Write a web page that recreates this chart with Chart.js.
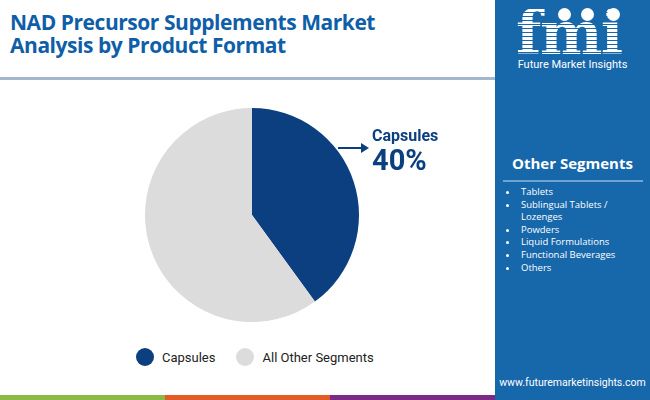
<!DOCTYPE html>
<html><head><meta charset="utf-8">
<script src="https://cdn.jsdelivr.net/npm/chart.js@4.4.0/dist/chart.umd.min.js"></script>
<style>
html,body{margin:0;padding:0;width:650px;height:400px;overflow:hidden;background:#fff;font-family:"Open Sans",sans-serif;}
.tl{position:absolute;left:10px;color:#0f5ea8;font-weight:700;font-size:21px;line-height:23px;height:23px;letter-spacing:-0.45px;white-space:nowrap;}
#sep{position:absolute;left:0;top:77px;width:495px;height:3px;background:#a3b8cc;}
#side{position:absolute;left:495px;top:0;width:155px;height:400px;background:#1767ab;}
#logo{position:absolute;left:0;top:0;width:155px;height:80px;}
#fmi{position:absolute;left:21px;top:9px;font-family:"DejaVu Serif",serif;font-weight:700;font-size:59px;line-height:50px;height:50px;letter-spacing:-1.5px;
  color:transparent;background:repeating-linear-gradient(to bottom,#fff 0,#fff 3px,transparent 3px,transparent 4px);-webkit-background-clip:text;background-clip:text;}
.dot{position:absolute;width:13px;height:13px;border-radius:50%;background:#fff;}
#fmitxt{position:absolute;left:0;width:155px;top:58px;text-align:center;color:#fff;font-family:Roboto,sans-serif;font-size:11px;line-height:13px;}
#osh{position:absolute;left:0;width:155px;top:153px;text-align:center;color:#fff;font-weight:700;font-size:15px;}
#osl{position:absolute;left:8px;top:180px;width:140px;height:2px;background:#6ea3d2;}
#list{position:absolute;left:8px;top:186px;margin:0;padding:0 0 0 16px;color:#fff;font-size:9.5px;line-height:12.6px;}
#list li{padding-left:2px;}
#url{position:absolute;left:0;width:155px;top:376px;text-align:center;color:#fff;font-family:Roboto,sans-serif;font-size:10.5px;}
#bar{position:absolute;left:0;top:395px;width:495px;height:5px;display:flex;}
#bar div{flex:1;}
#pieWrap{position:absolute;left:142px;top:105px;width:220px;height:220px;}
#ann{position:absolute;left:372px;top:127px;color:#0b3f7f;font-family:Roboto,sans-serif;font-weight:700;}
#ann .l{font-size:16px;line-height:18px;}
#ann .v{font-size:29px;line-height:30px;}
#arrow{position:absolute;left:338px;top:147px;width:24px;height:2px;background:#0b3f7f;}
#arrowhead{position:absolute;left:361px;top:143px;width:0;height:0;border-top:5px solid transparent;border-bottom:5px solid transparent;border-left:8px solid #0b3f7f;}
#legend{position:absolute;left:136px;top:348px;display:flex;align-items:center;font-family:Roboto,sans-serif;font-size:13px;color:#222;}
#legend .it{display:flex;align-items:center;margin-right:21px;}
#legend .sw{width:18px;height:18px;border-radius:50%;margin-right:8px;}
</style></head><body>
<div class="tl" style="top:11px">NAD Precursor Supplements Market</div>
<div class="tl" style="top:34px">Analysis by Product Format</div>
<div id="sep"></div>
<div id="side">
  <div id="logo">
    <div id="fmi">fmi</div>
    <div class="dot" style="left:63px;top:8px"></div>
    <div class="dot" style="left:86px;top:8px"></div>
    <div class="dot" style="left:112px;top:8px"></div>
    <div id="fmitxt">Future Market Insights</div>
  </div>
  <div id="osh">Other Segments</div>
  <div id="osl"></div>
  <ul id="list"></ul>
  <div id="url">www.futuremarketinsights.com</div>
</div>
<div id="bar"><div style="background:#8bbb45"></div><div style="background:#e35b26"></div><div style="background:#7b2a86"></div></div>
<div id="pieWrap"><canvas id="pie"></canvas></div>
<div id="arrow"></div><div id="arrowhead"></div>
<div id="ann"><div class="l" id="annL"></div><div class="v" id="annV"></div></div>
<div id="legend"></div>
<script>
const categories = ["Capsules", "All Other Segments"];
const shares = [40, 60];
const sliceColors = ["#0b3f7f", "#dcdcdc"];
const otherSegments = ["Tablets", "Sublingual Tablets / Lozenges", "Powders", "Liquid Formulations", "Functional Beverages", "Others"];

document.getElementById('list').innerHTML = otherSegments.map(s => '<li>' + s + '</li>').join('');
document.getElementById('annL').textContent = categories[0];
document.getElementById('annV').textContent = shares[0] + '%';
document.getElementById('legend').innerHTML = categories.map((c, i) =>
  '<div class="it"><div class="sw" style="background:' + sliceColors[i] + '"></div>' + c + '</div>').join('');

new Chart(document.getElementById('pie'), {
  type: 'pie',
  data: { labels: categories, datasets: [{ data: shares, backgroundColor: sliceColors, borderWidth: 0 }] },
  options: {
    responsive: true, maintainAspectRatio: false, animation: false,
    layout: { padding: 3 },
    plugins: { legend: { display: false }, tooltip: { enabled: false } }
  }
});
</script>
</body></html>
